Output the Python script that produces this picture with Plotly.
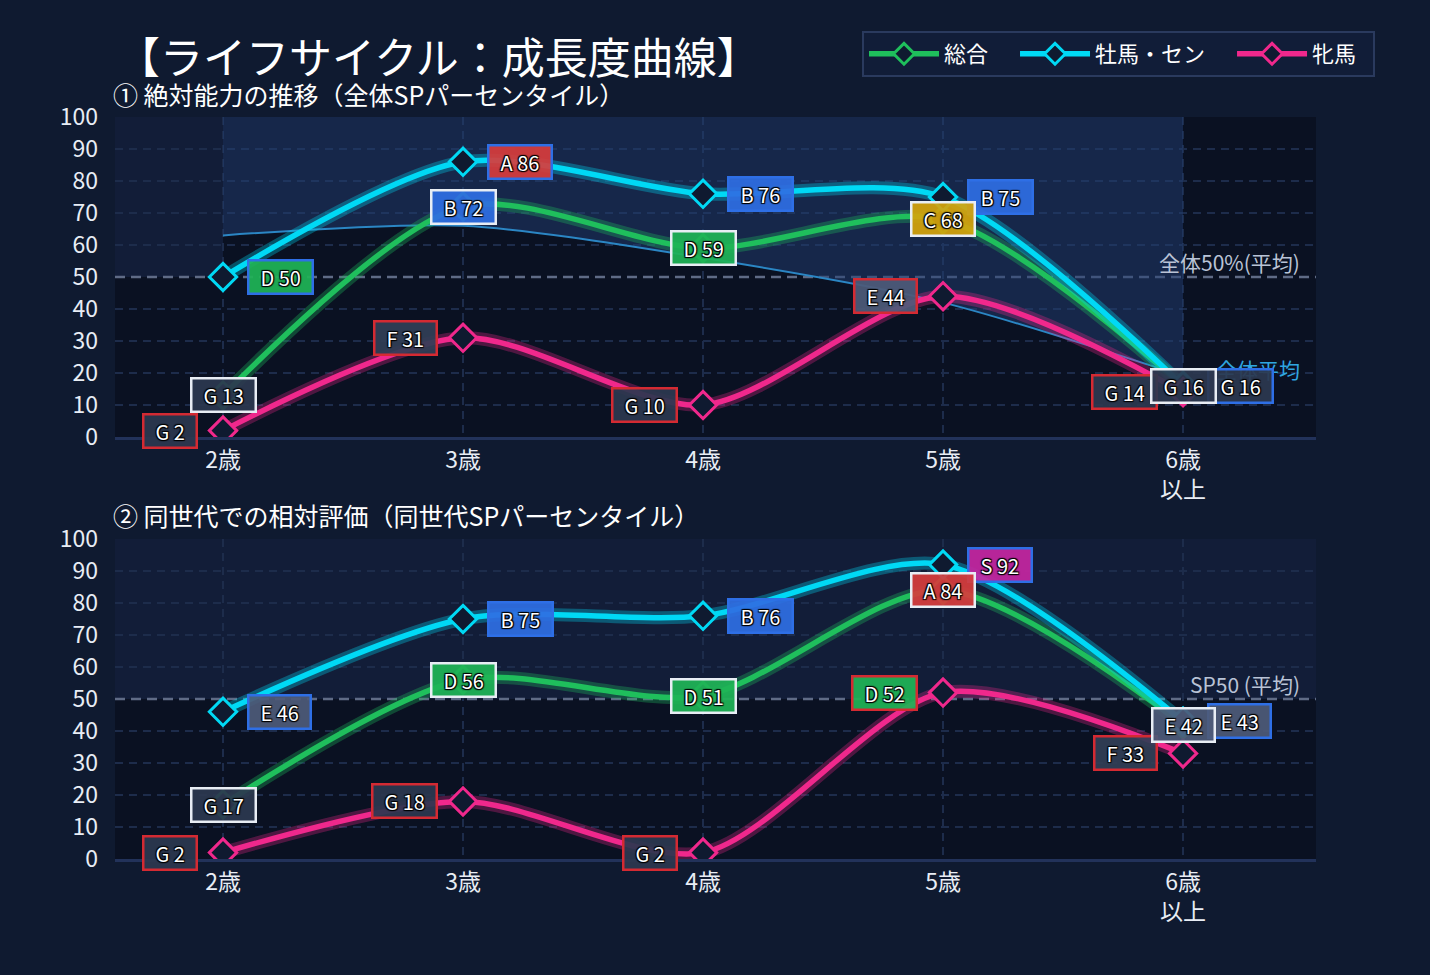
import plotly.graph_objects as go

# ---------------- data ----------------
ages = ["2歳", "3歳", "4歳", "5歳", "6歳<br>以上"]
series_names = ["総合", "牡馬・セン", "牝馬"]

abs_total = [13, 72, 59, 68, 16]
abs_male = [50, 86, 76, 75, 16]
abs_female = [2, 31, 10, 44, 14]
abs_avg = [63, 66, 56, 42, 19]

rel_total = [17, 56, 51, 84, 42]
rel_male = [46, 75, 76, 92, 43]
rel_female = [2, 18, 2, 52, 33]

grade_names = ["S", "A", "B", "C", "D", "E", "F", "G"]
grade_mins = [90, 80, 70, 60, 50, 40, 30, 0]
y_ticks = [0, 10, 20, 30, 40, 50, 60, 70, 80, 90, 100]
ref_level = 50

title_text = "【ライフサイクル：成長度曲線】"
sub1_text = "① 絶対能力の推移（全体SPパーセンタイル）"
sub2_text = "② 同世代での相対評価（同世代SPパーセンタイル）"
ref1_text = "全体50%(平均)"
ref2_text = "SP50 (平均)"
avg_text = "全体平均"

# ---------------- style ----------------
FONT = "Noto Sans CJK JP"
PAGE_BG = "#0f1a30"
PLOT_BG = "#0a1122"
BAND_BG = "#121d38"
GRID = "#1d2c4b"
W, H = 1430, 975
ML, MR, MT, MB = 115, 114, 117, 116
plot_w = W - ML - MR
plot_h = H - MT - MB
panel_h = 320
top_dom = [1 - panel_h / plot_h, 1]
bot_dom = [0, panel_h / plot_h]
XR = [-0.45, 4.554]
SMOOTH = 0.8

line_colors = ["#1fbf5c", "#00d9f5", "#f0288c"]
glow_colors = ["rgba(31,191,92,0.32)", "rgba(0,217,245,0.32)", "rgba(240,40,140,0.30)"]
border_colors = ["#e8edf4", "#2e6fe6", "#d42a32"]
legend_pad = ["\u3000", "\u3000", "\u2002"]
grade_colors = {
    "S": "rgba(196,38,160,0.93)",
    "A": "rgba(214,60,60,0.93)",
    "B": "rgba(46,110,226,0.93)",
    "C": "rgba(212,164,12,0.93)",
    "D": "rgba(31,180,86,0.93)",
    "E": "rgba(77,90,120,0.93)",
    "F": "rgba(50,62,86,0.93)",
    "G": "rgba(44,56,80,0.93)",
}
SHADOW = "1px 1px 1px #000, -1px -1px 1px #000, 1px -1px 1px #000, -1px 1px 1px #000"


def px_x(px):
    return (px - ML) / plot_w


def px_y(py):
    return (H - MB - py) / plot_h


def grade_of(v):
    for name, lo in zip(grade_names, grade_mins):
        if v >= lo:
            return name
    return grade_names[-1]


xs = list(range(len(ages)))
fig = go.Figure()

# ---- top panel: average area ----
fig.add_trace(go.Scatter(x=xs, y=abs_avg, mode="lines",
                         line=dict(width=0, shape="spline", smoothing=SMOOTH),
                         xaxis="x", yaxis="y", showlegend=False, hoverinfo="skip"))
fig.add_trace(go.Scatter(x=xs, y=[100] * len(xs), mode="lines", line=dict(width=0),
                         fill="tonexty", fillcolor="rgba(34,61,114,0.5)",
                         xaxis="x", yaxis="y", showlegend=False, hoverinfo="skip"))
fig.add_trace(go.Scatter(x=xs, y=abs_avg, mode="lines",
                         line=dict(width=2, color="#2b86c4", shape="spline", smoothing=SMOOTH),
                         xaxis="x", yaxis="y", showlegend=False, hoverinfo="skip"))

panels = [
    ("x", "y", [abs_total, abs_male, abs_female], True),
    ("x2", "y2", [rel_total, rel_male, rel_female], False),
]

annotations = []
for xa, ya, data, show_leg in panels:
    for i, vals in enumerate(data):
        fig.add_trace(go.Scatter(x=xs, y=vals, mode="lines",
                                 line=dict(width=13, color=glow_colors[i], shape="spline",
                                           smoothing=SMOOTH),
                                 xaxis=xa, yaxis=ya, showlegend=False, hoverinfo="skip"))
        fig.add_trace(go.Scatter(x=xs, y=vals, mode="lines+markers",
                                 name=series_names[i] + legend_pad[i],
                                 line=dict(width=5.5, color=line_colors[i], shape="spline",
                                           smoothing=SMOOTH),
                                 marker=dict(symbol="diamond", size=21, color=PAGE_BG,
                                             line=dict(width=3, color=line_colors[i])),
                                 xaxis=xa, yaxis=ya, showlegend=show_leg, legendrank=i))
    # labels: female (left), male (right), total (center, on top)
    for i in [2, 1, 0]:
        vals = data[i]
        for j, v in enumerate(vals):
            g = grade_of(v)
            if i == 0:
                anchor, shift = "center", 0
            elif i == 1:
                anchor, shift = "left", 24
            else:
                anchor, shift = "right", -25
            annotations.append(dict(
                x=xs[j], y=v, xref=xa, yref=ya, text=f"\u2002{g} {v}\u2002",
                showarrow=False, xanchor=anchor, yanchor="middle", xshift=shift,
                bgcolor=grade_colors[g], bordercolor=border_colors[i], borderwidth=2.5,
                borderpad=1,
                font=dict(family=FONT, size=20, color="#ffffff", shadow=SHADOW)))

ref_annots = [
    dict(x=px_x(1302), y=ref_level, xref="paper", yref="y", text=ref1_text, showarrow=False,
         xanchor="right", yanchor="middle", yshift=15,
         font=dict(family=FONT, size=21, color="#b9c3d6")),
    dict(x=px_x(1302), y=ref_level, xref="paper", yref="y2", text=ref2_text, showarrow=False,
         xanchor="right", yanchor="middle", yshift=15,
         font=dict(family=FONT, size=21, color="#b9c3d6")),
    dict(x=px_x(1302), y=abs_avg[-1], xref="paper", yref="y", text=avg_text, showarrow=False,
         xanchor="right", yanchor="middle", yshift=7,
         font=dict(family=FONT, size=21, color="#2fa6e0")),
]
text_annots = [
    dict(x=px_x(115), y=px_y(55), xref="paper", yref="paper", text=title_text, showarrow=False,
         xanchor="left", yanchor="middle", font=dict(family=FONT, size=43, color="#ffffff")),
    dict(x=px_x(111), y=px_y(94), xref="paper", yref="paper", text=sub1_text, showarrow=False,
         xanchor="left", yanchor="middle", font=dict(family=FONT, size=25, color="#ffffff")),
    dict(x=px_x(111), y=px_y(515), xref="paper", yref="paper", text=sub2_text, showarrow=False,
         xanchor="left", yanchor="middle", font=dict(family=FONT, size=25, color="#ffffff")),
]

shapes = [
    dict(type="rect", xref="x", yref="y", x0=XR[0], x1=0, y0=ref_level, y1=100,
         fillcolor=BAND_BG, line=dict(width=0), layer="below"),
    dict(type="rect", xref="x2", yref="y2", x0=XR[0], x1=XR[1], y0=ref_level, y1=100,
         fillcolor=BAND_BG, line=dict(width=0), layer="below"),
    dict(type="line", xref="x", yref="y", x0=XR[0], x1=XR[1], y0=ref_level, y1=ref_level,
         line=dict(color="#5f6b86", width=2.5, dash="10px,6px"), layer="below"),
    dict(type="line", xref="x2", yref="y2", x0=XR[0], x1=XR[1], y0=ref_level, y1=ref_level,
         line=dict(color="#5f6b86", width=2.5, dash="10px,6px"), layer="below"),
]

grid_vals = [t for t in y_ticks if t != ref_level]

xaxis_common = dict(range=XR, tickvals=xs, ticktext=ages, showgrid=True, gridcolor=GRID,
                    griddash="8px,6px", gridwidth=1.5, zeroline=False, showline=True,
                    linecolor="#22325a", linewidth=3, ticks="", ticklabelstandoff=0,
                    tickfont=dict(family=FONT, size=23, color="#e8edf5"), fixedrange=True)
yaxis_common = dict(range=[0, 100], tickvals=y_ticks, showgrid=False, zeroline=False,
                    showline=False, ticks="", ticklabelstandoff=16,
                    minor=dict(tickvals=grid_vals, showgrid=True, gridcolor=GRID,
                               griddash="8px,6px", gridwidth=1.5, ticks=""),
                    tickfont=dict(family=FONT, size=23, color="#e8edf5"), fixedrange=True)

fig.update_layout(
    width=W, height=H,
    margin=dict(l=ML, r=MR, t=MT, b=MB),
    paper_bgcolor=PAGE_BG, plot_bgcolor=PLOT_BG,
    font=dict(family=FONT, color="#ffffff"),
    xaxis=dict(**xaxis_common, anchor="y", domain=[0, 1]),
    yaxis=dict(**yaxis_common, anchor="x", domain=top_dom),
    xaxis2=dict(**xaxis_common, anchor="y2", domain=[0, 1]),
    yaxis2=dict(**yaxis_common, anchor="x2", domain=bot_dom),
    shapes=shapes,
    annotations=text_annots + ref_annots + annotations,
    legend=dict(orientation="h", x=px_x(1375), xanchor="right", y=px_y(31), yanchor="top",
                bgcolor="#111d38", bordercolor="#2a3a5e", borderwidth=2,
                font=dict(family=FONT, size=22, color="#ffffff"), itemwidth=70,
                traceorder="normal"),
    showlegend=True,
)

fig.write_html("out.html")
